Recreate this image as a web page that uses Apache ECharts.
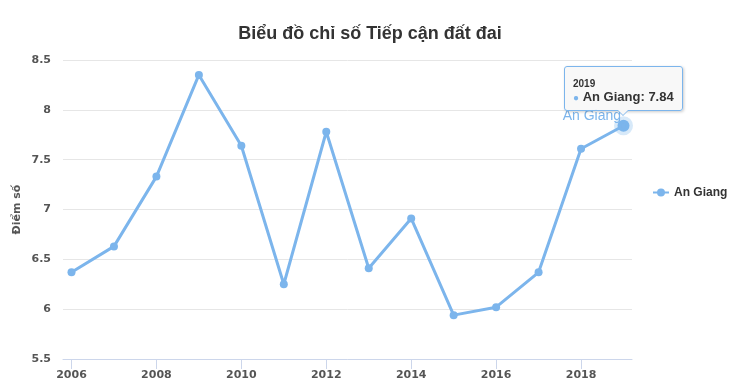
<!DOCTYPE html>
<html>
<head>
<meta charset="utf-8">
<script src="https://cdn.jsdelivr.net/npm/echarts@6/dist/echarts.min.js"></script>
<style>html,body{margin:0;padding:0;background:#fff}#c{width:740px;height:385px}</style>
</head>
<body>
<div id="c"></div>
<script>
var years = [2006,2007,2008,2009,2010,2011,2012,2013,2014,2015,2016,2017,2018,2019];
var values = [6.37,6.63,7.33,8.35,7.64,6.25,7.78,6.41,6.91,5.94,6.02,6.37,7.61,7.84];
var xTickLabels = [2006,2008,2010,2012,2014,2016,2018];
var seriesName = 'An Giang';
var titleText = 'Biểu đồ chỉ số Tiếp cận đất đai';
var yName = 'Điểm số';
var hoverIndex = 13;

var color = '#7cb5ec';
var data = years.map(function(y,i){
  var d = {value:[y, values[i]]};
  if (i === hoverIndex) {
    d.symbolSize = 12;
    d.itemStyle = {borderColor:'rgba(124,181,236,0.3)', borderWidth:7};
    d.label = {show:true, position:'left', offset:[12,-10], formatter:seriesName, color:color, fontSize:14, fontFamily:'Liberation Sans', fontWeight:'normal'};
  }
  return d;
});

var chart = echarts.init(document.getElementById('c'));
chart.setOption({
  animation:false,
  title:{text:titleText, left:'center', top:20, textStyle:{fontFamily:'Liberation Sans', fontSize:18, fontWeight:'bold', color:'#333'}},
  grid:{left:63, right:108, top:60, bottom:26, containLabel:false},
  legend:{orient:'vertical', left:648, top:'middle', itemWidth:16, itemHeight:8, itemGap:10,
    icon:'path://M0,5L16,5L16,7L0,7Z M12,6A4,4 0 1,1 4,6A4,4 0 1,1 12,6Z',
    textStyle:{fontFamily:'Liberation Sans', fontSize:12, fontWeight:'bold', color:'#333'}, data:[seriesName]},
  tooltip:{
    trigger:'item', triggerOn:'none', alwaysShowContent:true,
    backgroundColor:'rgba(247,247,247,0.9)', borderColor:color, borderWidth:1, padding:[10,8,5,8],
    extraCssText:'border-radius:3px;box-shadow:1px 1px 3px rgba(0,0,0,0.2);overflow:visible;',
    textStyle:{fontFamily:'Liberation Sans', color:'#333'},
    position:function(p, params, dom, rect, size){
      return [p[0]-size.contentSize[0]/2, p[1]-size.contentSize[1]-15];
    },
    formatter:function(p){
      return '<div style="position:relative;">'+
        '<div style="font-size:10px;line-height:13px;font-weight:bold;">'+p.value[0]+'</div>'+
        '<div style="font-size:13px;line-height:14px;"><span style="color:'+color+';font-size:10px">\u25CF</span> <b>'+p.seriesName+': '+p.value[1]+'</b></div>'+
        '</div>'+
        '<div style="position:absolute;left:50%;bottom:-6px;margin-left:-6px;width:0;height:0;border-left:6px solid transparent;border-right:6px solid transparent;border-top:6px solid '+color+';"></div>'+
        '<div style="position:absolute;left:50%;bottom:-5px;margin-left:-5px;width:0;height:0;border-left:5px solid transparent;border-right:5px solid transparent;border-top:5px solid #f7f7f7;"></div>';
    }
  },
  xAxis:{
    type:'value', min:2005.8, max:2019.2,
    axisLine:{show:true, lineStyle:{color:'#ccd6eb'}},
    axisTick:{show:true, length:10, lineStyle:{color:'#ccd6eb'}, customValues:xTickLabels},
    axisLabel:{customValues:xTickLabels, formatter:function(v){return String(v);}, fontFamily:'DejaVu Sans', fontSize:11, fontWeight:'bold', color:'#555', margin:11},
    splitLine:{show:false}
  },
  yAxis:{
    type:'value', min:5.5, max:8.5, interval:0.5,
    name:yName, nameLocation:'middle', nameGap:40, nameRotate:90, nameMoveOverlap:false,
    nameTextStyle:{fontFamily:'DejaVu Sans', fontSize:11, fontWeight:'bold', color:'#555'},
    axisLine:{show:false}, axisTick:{show:false},
    axisLabel:{fontFamily:'DejaVu Sans', fontSize:11, fontWeight:'bold', color:'#555', margin:12},
    splitLine:{lineStyle:{color:'#e6e6e6'}}
  },
  series:[{
    name:seriesName, type:'line', data:data, color:color,
    symbol:'circle', symbolSize:8, showAllSymbol:true,
    lineStyle:{width:3, color:color}, itemStyle:{color:color},
    emphasis:{disabled:true}
  }]
});
chart.dispatchAction({type:'showTip', seriesIndex:0, dataIndex:hoverIndex});
</script>
</body>
</html>
